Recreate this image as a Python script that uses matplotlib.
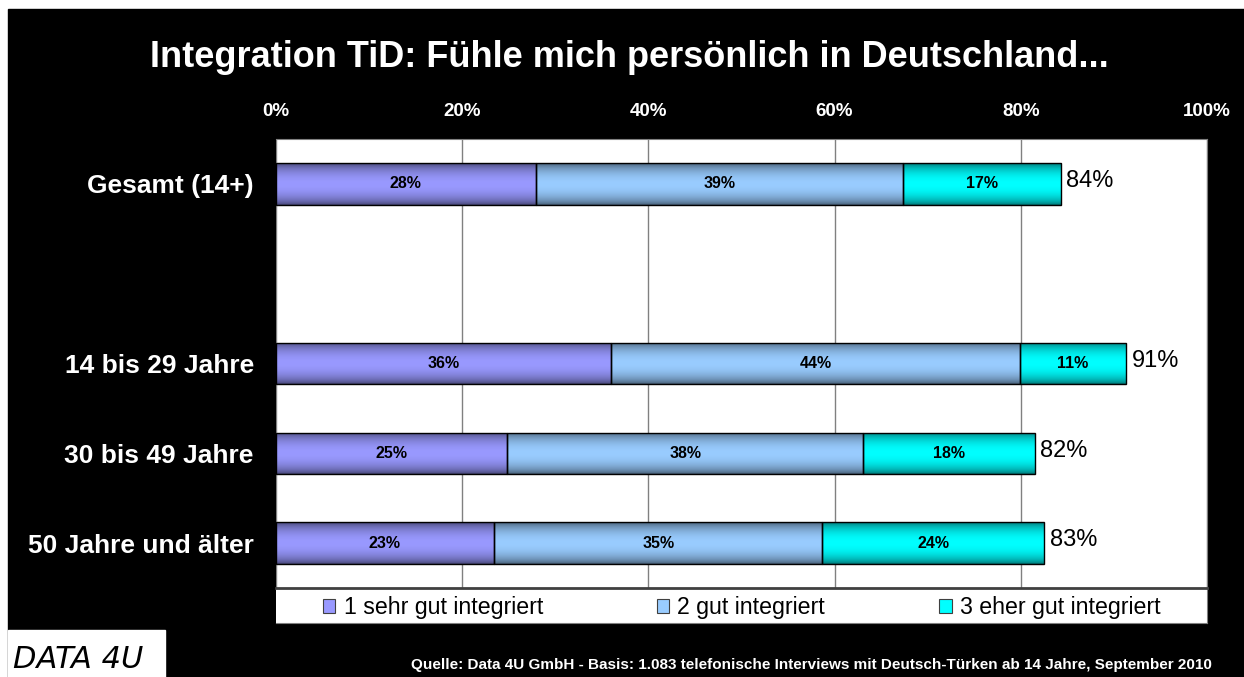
import matplotlib
matplotlib.use("Agg")
import matplotlib.pyplot as plt
from matplotlib.patches import Rectangle, Patch
import numpy as np

plt.rcParams['font.family'] = ['Liberation Sans', 'DejaVu Sans']

# data
categories = ["Gesamt (14+)", "14 bis 29 Jahre", "30 bis 49 Jahre", "50 Jahre und älter"]
sehr_gut = [27.9, 36.0, 24.8, 23.4]
gut = [39.4, 43.9, 38.3, 35.3]
eher_gut = [17.0, 11.4, 18.4, 23.8]
totals = [84, 91, 82, 83]
series_names = ["1 sehr gut integriert", "2 gut integriert", "3 eher gut integriert"]
colors = ["#9999ff", "#99ccff", "#00ffff"]
x_ticks = [0, 20, 40, 60, 80, 100]

title = "Integration TiD: Fühle mich persönlich in Deutschland..."
source = ("Quelle: Data 4U GmbH - Basis: 1.083 telefonische Interviews mit "
          "Deutsch-Türken ab 14 Jahre, September 2010")

# layout: one empty slot between Gesamt and the age groups
row_pos = [0, 2, 3, 4]
W, H = 1244, 677


def gradient(color, n=64):
    rgb = np.array(matplotlib.colors.to_rgb(color))
    t = np.linspace(0, 1, n)
    w = np.clip(np.sin(np.pi * t) ** 0.6, 0, 1)
    dark = rgb * 0.42
    g = dark[None, :] * (1 - w[:, None]) + rgb[None, :] * w[:, None]
    return g[:, None, :]


fig = plt.figure(figsize=(W / 100, H / 100), dpi=100)
fig.patch.set_facecolor("white")
fig.patches.append(Rectangle((8 / W, 0), 1, 1 - 9 / H, transform=fig.transFigure,
                             color="black", zorder=-10))
fig.patches.append(Rectangle((8 / W, 0), (165 - 8) / W, 47 / H, transform=fig.transFigure,
                             color="white", zorder=-9))

ax = fig.add_axes([276 / W, 1 - 588 / H, (1207 - 276) / W, (588 - 139) / H])
ax.set_facecolor("white")

bar_h = 0.46
lefts = np.zeros(len(categories))
for vals, col in zip([sehr_gut, gut, eher_gut], colors):
    bars = ax.barh(row_pos, vals, left=lefts, height=bar_h, facecolor="none",
                   edgecolor="black", linewidth=1, zorder=4)
    grad = gradient(col)
    for b, v, l, y in zip(bars, vals, lefts, row_pos):
        im = ax.imshow(grad, extent=(l, l + v, y + bar_h / 2, y - bar_h / 2),
                       aspect="auto", zorder=3, interpolation="bilinear")
        im.set_clip_path(b)
        ax.text(l + v / 2, y, f"{round(v)}%", ha="center", va="center",
                fontsize=11.5, fontweight="bold", color="black", zorder=5)
    lefts = lefts + np.array(vals)

for end, t, y in zip(lefts, totals, row_pos):
    ax.text(end + 0.6, y - 0.03, f"{t}%", ha="left", va="center", fontsize=17,
            color="black", zorder=5)

ax.set_xlim(0, 100)
ax.set_ylim(4.5, -0.5)
ax.xaxis.tick_top()
ax.set_xticks(x_ticks)
ax.set_xticklabels([f"{v}%" for v in x_ticks], color="white", fontweight="bold", fontsize=13.5)
ax.set_yticks(row_pos)
ax.set_yticklabels(categories, color="white", fontweight="bold", fontsize=19)
ax.tick_params(axis="x", length=0, pad=14)
ax.tick_params(axis="y", length=0, pad=16)
ax.grid(axis="x", color="#808080", linewidth=1, zorder=1)
ax.set_axisbelow(True)
for s in ax.spines.values():
    s.set_color("#808080")
ax.spines["left"].set_visible(False)

# legend strip under the plot
lax = fig.add_axes([276 / W, 1 - 623 / H, (1207 - 276) / W, 35 / H])
lax.set_facecolor("white")
lax.set_xticks([])
lax.set_yticks([])
for s in lax.spines.values():
    s.set_color("#808080")
lax.spines["top"].set_color("#404040")
lax.spines["top"].set_linewidth(2)
lax.spines["left"].set_visible(False)
handles = [Patch(facecolor=c, edgecolor="#404040", linewidth=0.8) for c in colors]
lax.legend(handles, series_names, ncol=3, loc="center", frameon=False, fontsize=16.7,
           handlelength=0.55, handleheight=0.55, handletextpad=0.35, columnspacing=4.9,
           borderpad=0, borderaxespad=0, bbox_to_anchor=(0.5, 0.45))

fig.text(629 / W, 1 - 67 / H, title, ha="center", va="baseline", color="white",
         fontsize=26, fontweight="bold")
fig.text(1212 / W, 1 - 669 / H, source, ha="right", va="baseline", color="white",
         fontsize=11, fontweight="bold")
fig.text(13 / W, 1 - 668 / H, "DATA 4U", ha="left", va="baseline", color="black",
         fontsize=22, fontstyle="italic", family="DejaVu Sans")

fig.savefig("out.png", dpi=100, facecolor=fig.get_facecolor())
